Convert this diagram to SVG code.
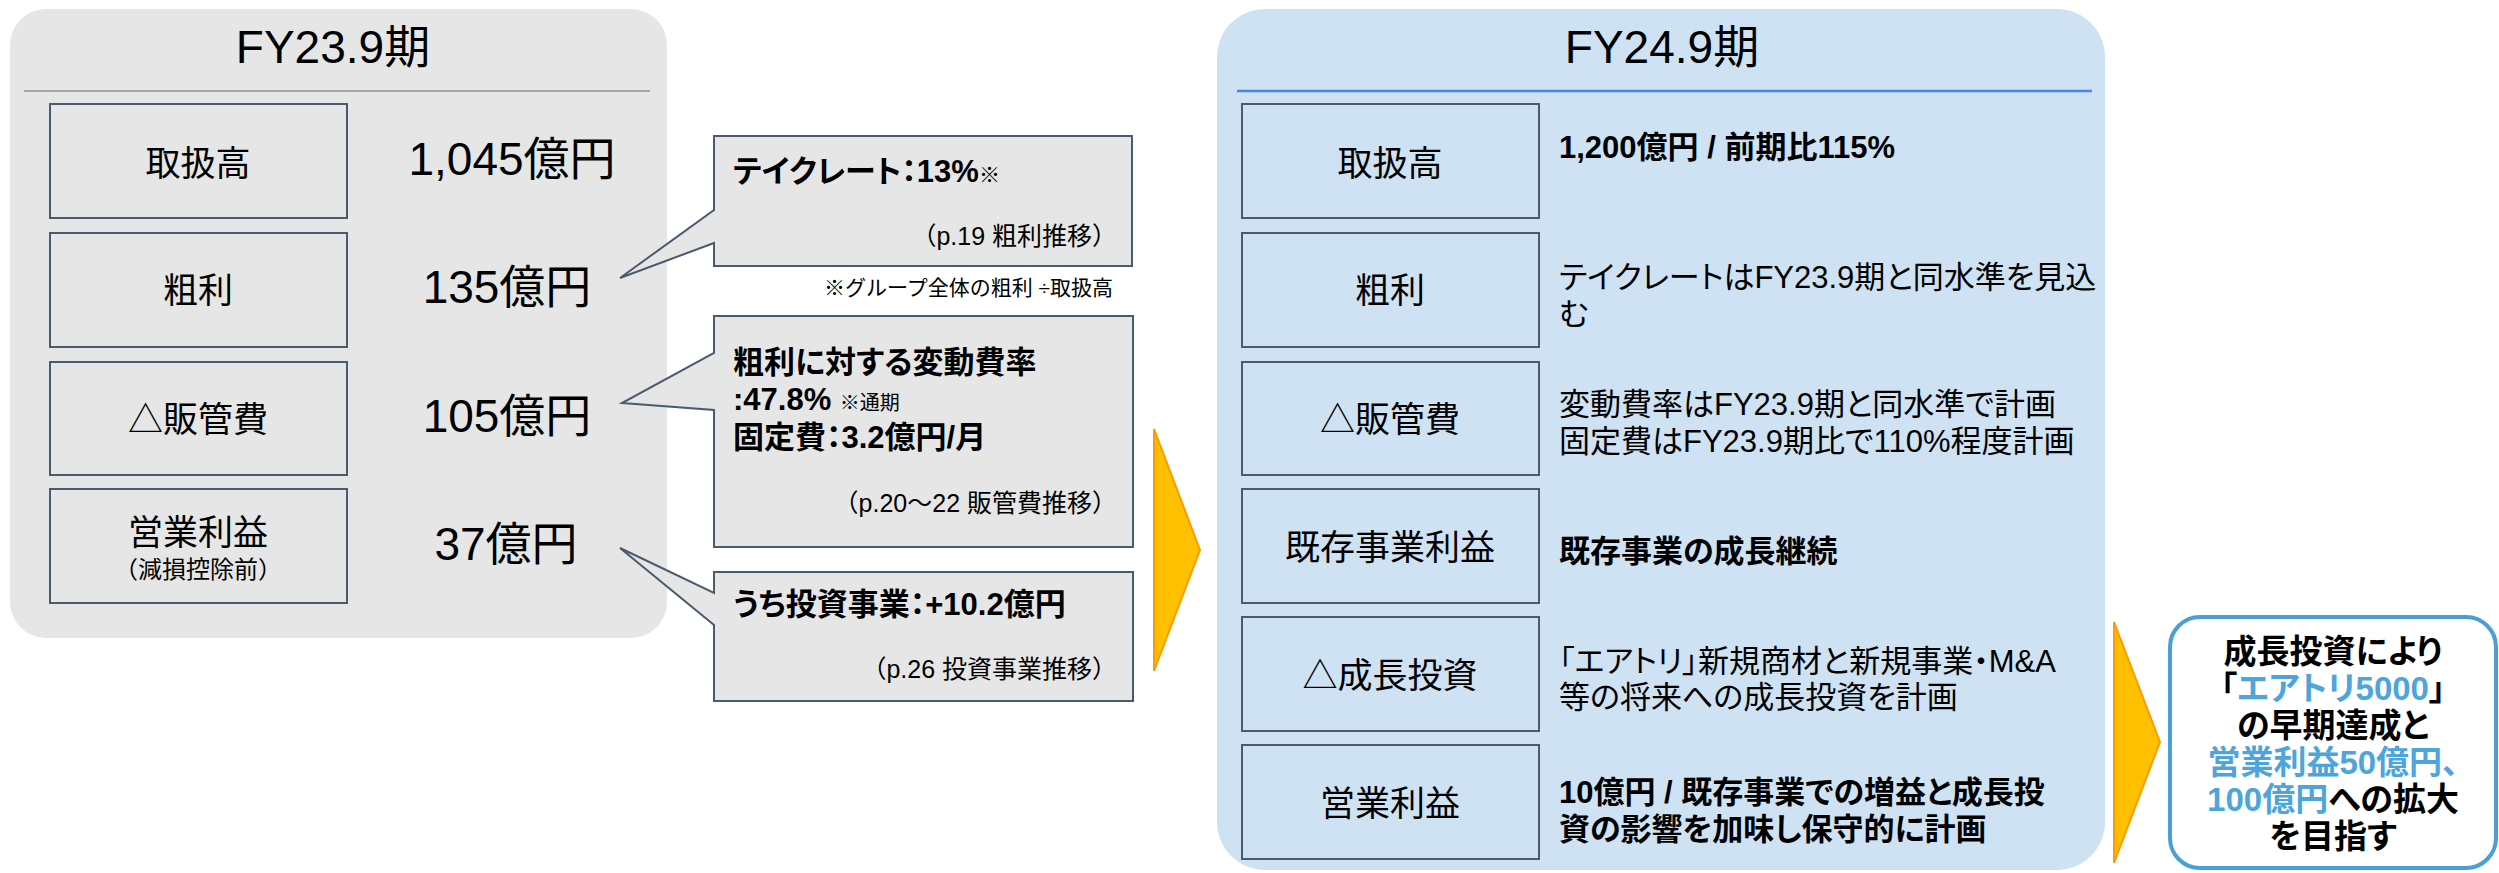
<svg xmlns="http://www.w3.org/2000/svg" width="2499" height="873" viewBox="0 0 2499 873">
<style>
text{font-family:'Liberation Sans','Noto Sans CJK JP',sans-serif;fill:#000}
.title{font-size:46px;text-anchor:middle}
.lbl{font-size:35px;text-anchor:middle}
.val{font-size:46px;text-anchor:middle}
.box{fill:none;stroke:#4b5a6e;stroke-width:2}
.call{fill:#e6e6e6;stroke:#4b5a6e;stroke-width:2}
.cb{font-size:31px;font-weight:bold;font-feature-settings:"palt"}
.cs{font-size:25px;text-anchor:end}
.note{font-size:21px}
.desc{font-size:31px;font-feature-settings:"palt"}
.descb{font-size:31px;font-weight:bold;font-feature-settings:"palt"}
.arrow{fill:#ffc000;stroke:#ff9900;stroke-width:2}
.fin{font-size:33px;font-weight:bold;text-anchor:middle;font-feature-settings:"palt"}
.blue{fill:#4ea5db}
</style>
<g id="panel-fy23">
<rect x="10" y="9" width="657" height="629" rx="36" fill="#e6e6e6"/>
<text class="title" x="333" y="63">FY23.9期</text>
<line x1="24" y1="91" x2="650" y2="91" stroke="#a6a6a6" stroke-width="2"/>
</g>
<g id="fy23-gmv">
<rect class="box" x="50" y="104" width="297" height="114"/>
<text class="lbl" x="198" y="176">取扱高</text>
<text class="val" x="512" y="175">1,045億円</text>
</g>
<g id="fy23-gross">
<rect class="box" x="50" y="233" width="297" height="114"/>
<text class="lbl" x="198" y="303">粗利</text>
<text class="val" x="507" y="303">135億円</text>
</g>
<g id="fy23-sga">
<rect class="box" x="50" y="362" width="297" height="113"/>
<text class="lbl" x="198" y="432">△販管費</text>
<text class="val" x="507" y="432">105億円</text>
</g>
<g id="fy23-op">
<rect class="box" x="50" y="489" width="297" height="114"/>
<text class="lbl" x="198" y="545">営業利益</text>
<text x="198" y="578" style="font-size:24px;text-anchor:middle">（減損控除前）</text>
<text class="val" x="506" y="560">37億円</text>
</g>
<g id="callout-takerate">
<path class="call" d="M714,136 H1132 V266 H714 V243 L620,278 L714,210 Z"/>
<text class="cb" x="733" y="182">テイクレート：13%<tspan style="font-size:21px;font-weight:normal">※</tspan></text>
<text class="cs" x="1117" y="245">（p.19 粗利推移）</text>
</g>
<text class="note" x="1113" y="295" text-anchor="end">※グループ全体の粗利 ÷取扱高</text>
<g id="callout-sga">
<path class="call" d="M714,316 H1133 V547 H714 V410 L622,403 L714,353 Z"/>
<text class="cb" x="733" y="373">粗利に対する変動費率</text>
<text class="cb" x="733" y="410">:47.8% <tspan style="font-size:20px;font-weight:normal">※通期</tspan></text>
<text class="cb" x="733" y="448">固定費：3.2億円/月</text>
<text class="cs" x="1117" y="512">（p.20～22 販管費推移）</text>
</g>
<g id="callout-invest">
<path class="call" d="M714,572 H1133 V701 H714 V625 L620,548 L714,593 Z"/>
<text class="cb" x="733" y="615">うち投資事業：+10.2億円</text>
<text class="cs" x="1117" y="678">（p.26 投資事業推移）</text>
</g>
<g id="panel-fy24">
<rect x="1217" y="9" width="888" height="861" rx="48" fill="#cfe2f3"/>
<text class="title" x="1662" y="63">FY24.9期</text>
<line x1="1237" y1="91" x2="2092" y2="91" stroke="#4a86e8" stroke-width="2.5"/>
</g>
<g id="fy24-gmv">
<rect class="box" x="1242" y="104" width="297" height="114"/>
<text class="lbl" x="1390" y="176">取扱高</text>
<text class="descb" x="1559" y="158">1,200億円 / 前期比115%</text>
</g>
<g id="fy24-gross">
<rect class="box" x="1242" y="233" width="297" height="114"/>
<text class="lbl" x="1390" y="303">粗利</text>
<text class="desc" x="1559" y="288">テイクレートはFY23.9期と同水準を見込</text>
<text class="desc" x="1559" y="325">む</text>
</g>
<g id="fy24-sga">
<rect class="box" x="1242" y="362" width="297" height="113"/>
<text class="lbl" x="1390" y="432">△販管費</text>
<text class="desc" x="1559" y="415">変動費率はFY23.9期と同水準で計画</text>
<text class="desc" x="1559" y="452">固定費はFY23.9期比で110%程度計画</text>
</g>
<g id="fy24-existing">
<rect class="box" x="1242" y="489" width="297" height="114"/>
<text class="lbl" x="1390" y="560">既存事業利益</text>
<text class="descb" x="1559" y="562">既存事業の成長継続</text>
</g>
<g id="fy24-growth">
<rect class="box" x="1242" y="617" width="297" height="114"/>
<text class="lbl" x="1390" y="688">△成長投資</text>
<text class="desc" x="1559" y="672">「エアトリ」新規商材と新規事業・M&amp;A</text>
<text class="desc" x="1559" y="708">等の将来への成長投資を計画</text>
</g>
<g id="fy24-op">
<rect class="box" x="1242" y="745" width="297" height="114"/>
<text class="lbl" x="1390" y="816">営業利益</text>
<text class="descb" x="1559" y="803">10億円 / 既存事業での増益と成長投</text>
<text class="descb" x="1559" y="840">資の影響を加味し保守的に計画</text>
</g>
<g id="goal">
<rect x="2170" y="617" width="326" height="251" rx="30" fill="#fff" stroke="#4a9fd3" stroke-width="4"/>
<text class="fin" x="2333" y="663">成長投資により</text>
<text class="fin" x="2333" y="700">「<tspan class="blue">エアトリ5000</tspan>」</text>
<text class="fin" x="2333" y="737">の早期達成と</text>
<text class="fin blue" x="2333" y="774">営業利益50億円、</text>
<text class="fin" x="2333" y="811"><tspan class="blue">100億円</tspan>への拡大</text>
<text class="fin" x="2333" y="848">を目指す</text>
</g>
<g id="connectors">
<path class="arrow" d="M1154,429 L1200,550 L1154,671 Z"/>
<path class="arrow" d="M2114,622 L2160,742 L2114,863 Z"/>
</g>
</svg>
